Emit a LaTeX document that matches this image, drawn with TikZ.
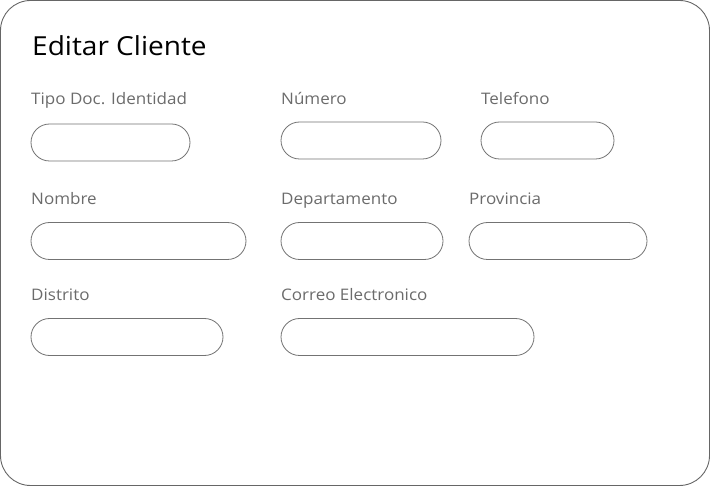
\documentclass[tikz,border=0pt]{standalone}
\usepackage{fontspec}
\setmainfont{Open Sans}
\newfontfamily\uifont[FakeStretch=1.07]{Open Sans}
\begin{document}
\begin{tikzpicture}[x=1pt,y=-1pt,
  frame/.style={draw=black!60,line width=0.9pt,rounded corners=30pt},
  field/.style={draw=black!55,line width=0.8pt,rounded corners=18.5pt,fill=white},
  lbl/.style={anchor=base west,inner sep=0pt,text=black!58,font=\uifont\fontsize{15.9}{19}\selectfont},
  ttl/.style={anchor=base west,inner sep=0pt,text=black,font=\uifont\fontsize{26.2}{31}\selectfont}]
\useasboundingbox (0,0) rectangle (710,486);
\draw[frame] (0.5,0.5) rectangle (709.5,485.5);
\node[ttl] (title) at (32,55.5) {Editar Cliente};
% row 1
\node[lbl] (ltipo) at (31,104.5) {Tipo Doc. Identidad};
\node[lbl] (lnum) at (281,104.5) {Número};
\node[lbl] (ltel) at (481,104.5) {Telefono};
\draw[field] (31,124) rectangle (190,161);
\draw[field] (281,122) rectangle (441,159);
\draw[field] (481,122) rectangle (614,159);
% row 2
\node[lbl] (lnom) at (31,204.5) {Nombre};
\node[lbl] (ldep) at (281,204.5) {Departamento};
\node[lbl] (lprov) at (469,204.5) {Provincia};
\draw[field] (31,222.5) rectangle (246,259.5);
\draw[field] (281,222.5) rectangle (443,259.5);
\draw[field] (469,222.5) rectangle (647,259.5);
% row 3
\node[lbl] (ldis) at (31,300.5) {Distrito};
\node[lbl] (lcor) at (281,300.5) {Correo Electronico};
\draw[field] (31,318.5) rectangle (223,355.5);
\draw[field] (281,318.5) rectangle (534,355.5);
\end{tikzpicture}
\end{document}
